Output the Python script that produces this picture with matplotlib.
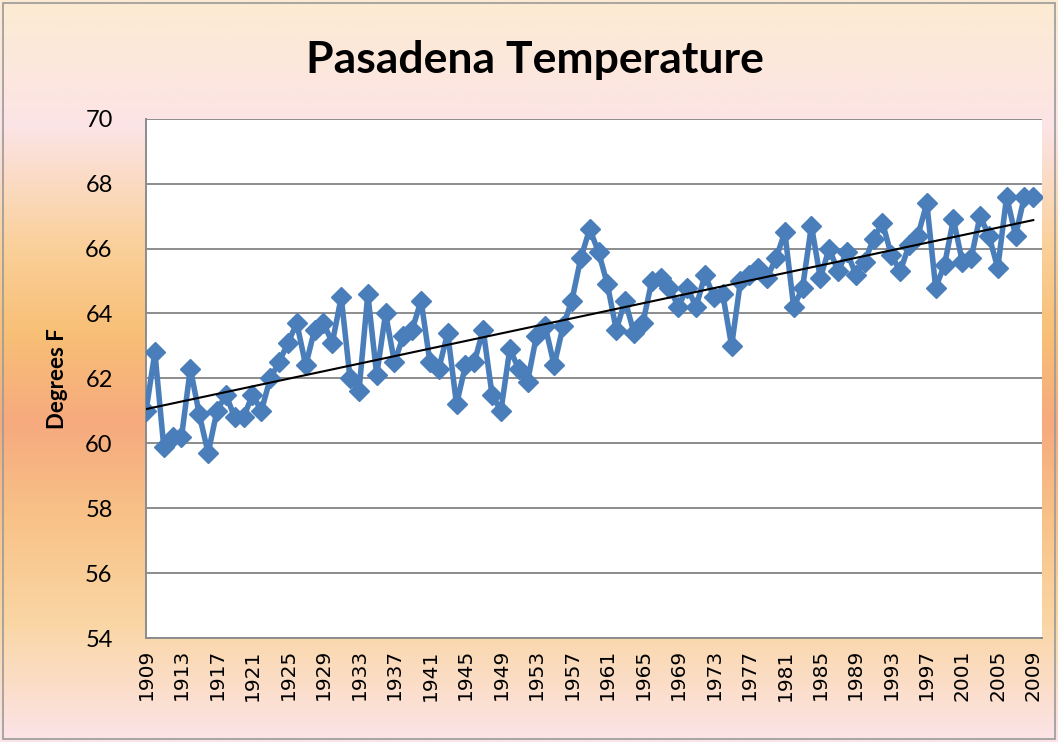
import matplotlib.pyplot as plt
import numpy as np
from matplotlib.colors import LinearSegmentedColormap
from matplotlib.patches import Rectangle

# annual mean temperature, Pasadena (deg F)
years = list(range(1909, 2010))
temps = [61.0, 62.8, 59.9, 60.2, 60.2, 62.3, 60.9, 59.7, 61.0, 61.5,
         60.8, 60.8, 61.5, 61.0, 62.0, 62.5, 63.1, 63.7, 62.4, 63.5,
         63.7, 63.1, 64.5, 62.0, 61.6, 64.6, 62.1, 64.0, 62.5, 63.3,
         63.5, 64.4, 62.5, 62.3, 63.4, 61.2, 62.4, 62.5, 63.5, 61.5,
         61.0, 62.9, 62.3, 61.9, 63.3, 63.6, 62.4, 63.6, 64.4, 65.7,
         66.6, 65.9, 64.9, 63.5, 64.4, 63.4, 63.7, 65.0, 65.1, 64.8,
         64.2, 64.8, 64.2, 65.2, 64.5, 64.6, 63.0, 65.0, 65.2, 65.4,
         65.1, 65.7, 66.5, 64.2, 64.8, 66.7, 65.1, 66.0, 65.3, 65.9,
         65.2, 65.6, 66.3, 66.8, 65.8, 65.3, 66.1, 66.4, 67.4, 64.8,
         65.5, 66.9, 65.6, 65.7, 67.0, 66.4, 65.4, 67.6, 66.4, 67.6,
         67.6]
tick_years = years[::4]
y_ticks = list(range(54, 71, 2))

fig = plt.figure(figsize=(10.58, 7.42), dpi=100)

# chart area background: excel style warm gradient
bg = fig.add_axes([0, 0, 1, 1], zorder=0)
cmap = LinearSegmentedColormap.from_list('bg', [
    (0.00, '#FCEBD2'), (0.17, '#FCE4E6'), (0.33, '#FAD09A'),
    (0.45, '#F8BF76'), (0.57, '#F6AA7E'), (0.70, '#F8C288'),
    (0.84, '#FAD6A4'), (1.00, '#FCE4E8')])
bg.imshow(np.linspace(0, 1, 256).reshape(-1, 1), cmap=cmap, aspect='auto',
          extent=[0, 1, 0, 1])
bg.axis('off')
fig.patches.append(Rectangle((0.003, 0.004), 0.994, 0.992, transform=fig.transFigure,
                             fill=False, edgecolor='#9A9A9A', lw=1.2))

ax = fig.add_axes([0.138, 0.140, 0.847, 0.700], zorder=1)
ax.set_facecolor('white')
ax.plot(years, temps, color='#4A7EBB', lw=4, marker='D', ms=10.5, zorder=3)

# linear trendline
coef = np.polyfit(years, temps, 1)
ax.plot(years, np.polyval(coef, years), color='black', lw=1.5, zorder=4)

ax.set_xlim(1909, 2010)
ax.set_ylim(54, 70)
ax.set_yticks(y_ticks)
ax.set_xticks(tick_years)
ax.set_xticklabels([str(y) for y in tick_years], rotation=90, fontsize=14.5,
                   family='DejaVu Sans')
ax.set_yticklabels([str(v) for v in y_ticks], fontsize=17, family='Lato')
ax.tick_params(axis='y', length=0, pad=24)
ax.tick_params(axis='x', length=0, pad=8)
ax.grid(axis='y', color='#8C8C8C', lw=1.4)
ax.set_axisbelow(True)
for s in ['top', 'right']:
    ax.spines[s].set_visible(False)
for s in ['left', 'bottom']:
    ax.spines[s].set_color('#8C8C8C')
    ax.spines[s].set_linewidth(1.4)

fig.text(0.506, 0.919, 'Pasadena Temperature', ha='center', va='center',
         fontsize=32, fontweight='bold', family='Lato')
fig.text(0.054, 0.49, 'Degrees F', rotation=90, ha='center', va='center',
         fontsize=16, fontweight='bold', family='Lato')

fig.savefig('out.png', dpi=100)
